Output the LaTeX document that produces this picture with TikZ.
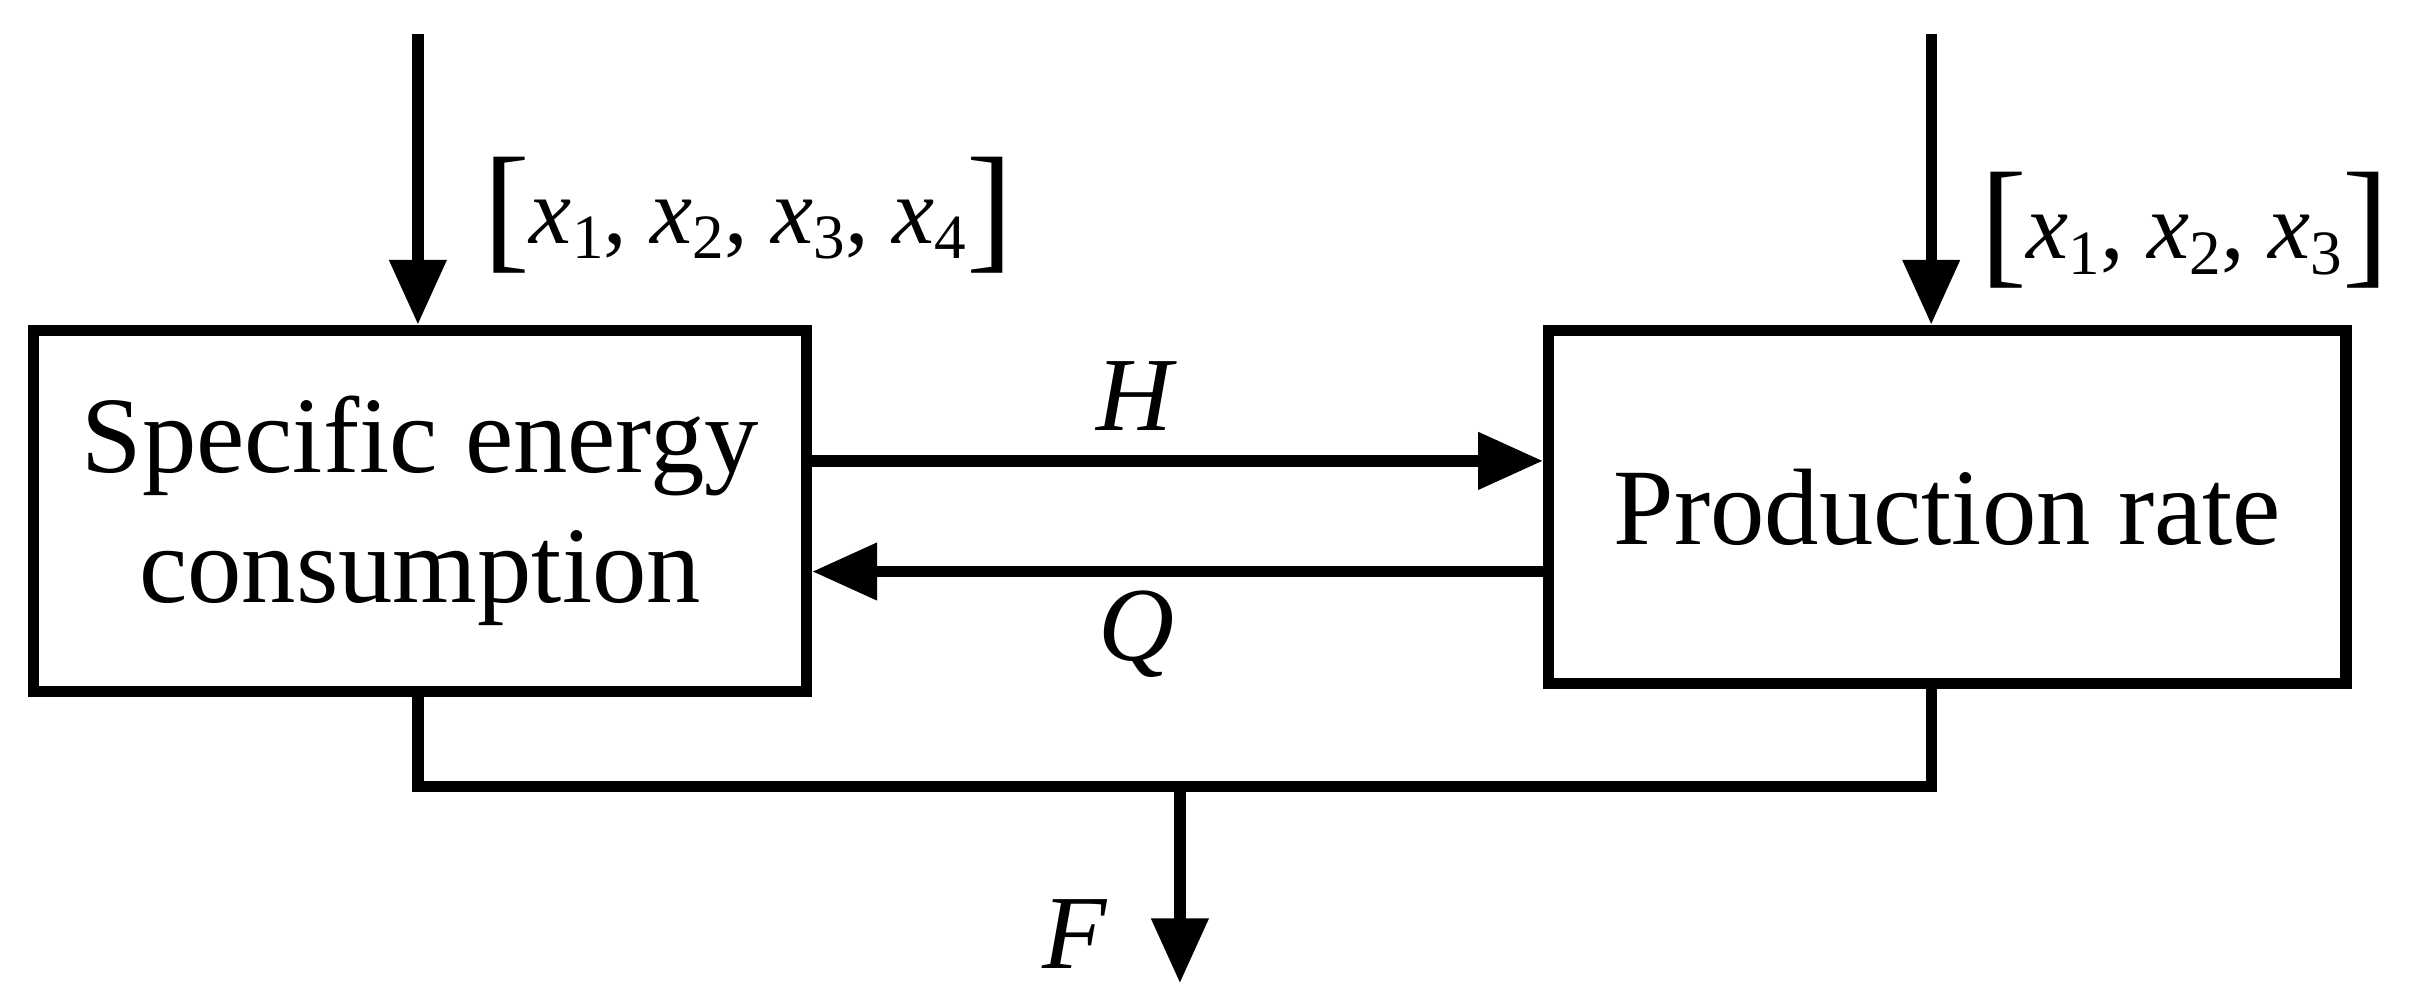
\documentclass[tikz,border=0pt]{standalone}
\usepackage{fontspec}
\setmainfont{Liberation Serif}
\usetikzlibrary{arrows.meta}
\newcommand{\vx}[1]{\textit{x}\raisebox{-0.35ex}{\fontsize{18}{20}\selectfont #1}}
\newcommand{\bigbr}[1]{\raisebox{-0.25ex}{\fontsize{40}{40}\selectfont #1}}
\begin{document}
\begin{tikzpicture}[x=0.0154cm,y=-0.0154cm,
  ln/.style={line width=3.2pt},
  ar/.style={ln,-{Triangle[length=0.65cm,width=0.55cm]}},
  box/.style={draw,line width=3.2pt,minimum width=503*0.0154cm,minimum height=235*0.0154cm,align=center,font=\fontsize{31}{37}\selectfont},
  lab/.style={font=\fontsize{30}{36}\selectfont},
  xlab/.style={font=\fontsize{27}{32}\selectfont}]
\useasboundingbox (0,0) rectangle (1568,651);
\node[box] (L) at (273.5,332.5) {Specific energy\\consumption};
\node[box,minimum width=519*0.0154cm,minimum height=230*0.0154cm] (R) at (1267.5,330) {Production rate};
\coordinate (lt) at (272,22);
\coordinate (rt) at (1257,22);
\draw[ar] (lt) -- (lt|-L.north);
\draw[ar] (rt) -- (rt|-R.north);
\node[xlab] (lx) at (487,140) {\bigbr{[}\vx{1}, \vx{2}, \vx{3}, \vx{4}\bigbr{]}};
\node[xlab] (rx) at (1422,150) {\bigbr{[}\vx{1}, \vx{2}, \vx{3}\bigbr{]}};
\coordinate (h1) at (525,300);
\coordinate (q1) at (1008,372);
\draw[ar] (h1) -- (h1-|R.west);
\draw[ar] (q1) -- (q1-|L.east);
\node[lab] (H) at (740,258) {\textit{H}};
\node[lab] (Q) at (740,413) {\textit{Q}};
\coordinate (bl) at (272,512);
\coordinate (br) at (1257,512);
\coordinate (fm) at (768,512);
\coordinate (fe) at (768,640);
\draw[ln] (lt|-L.south) -- (bl) -- (br) -- (rt|-R.south);
\draw[ar] (fm) -- (fe);
\node[lab] (F) at (700,608) {\textit{F}};
\end{tikzpicture}
\end{document}
